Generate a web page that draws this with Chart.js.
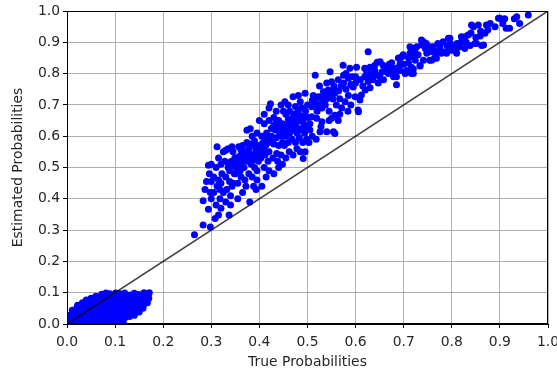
<!DOCTYPE html>
<html>
<head>
<meta charset="utf-8">
<script src="https://cdn.jsdelivr.net/npm/chart.js@4"></script>
<style>
html,body{margin:0;padding:0;background:#fff;}
#wrap{width:557px;height:372px;position:relative;}
</style>
</head>
<body>
<div id="wrap"><canvas id="c" width="557" height="372"></canvas></div>
<script>
const xTitle = "True Probabilities";
const yTitle = "Estimated Probabilities";
const xTickLabels = ["0.0","0.1","0.2","0.3","0.4","0.5","0.6","0.7","0.8","0.9","1.0"];
const yTickLabels = ["0.0","0.1","0.2","0.3","0.4","0.5","0.6","0.7","0.8","0.9","1.0"];
const diagonal = [[0,0],[1,1]];

// low-probability blob
const lowCluster = [
[0.004,0.004],[0.006,0.016],[0.005,0.028],
[0.012,0.003],[0.011,0.018],[0.013,0.032],[0.011,0.044],
[0.02,0.008],[0.021,0.022],[0.019,0.036],[0.02,0.05],[0.022,0.06],
[0.03,0.004],[0.029,0.017],[0.031,0.03],[0.03,0.044],[0.029,0.057],[0.032,0.068],
[0.04,0.01],[0.041,0.024],[0.039,0.038],[0.04,0.052],[0.041,0.065],[0.04,0.077],
[0.05,0.003],[0.049,0.016],[0.051,0.03],[0.05,0.044],[0.049,0.058],[0.051,0.07],[0.05,0.082],
[0.06,0.009],[0.061,0.023],[0.059,0.037],[0.06,0.051],[0.061,0.064],[0.059,0.077],[0.06,0.089],
[0.07,0.003],[0.069,0.016],[0.071,0.03],[0.07,0.044],[0.069,0.058],[0.071,0.071],[0.07,0.084],[0.072,0.095],
[0.08,0.009],[0.081,0.023],[0.079,0.037],[0.08,0.051],[0.081,0.064],[0.079,0.077],[0.08,0.089],[0.081,0.099],
[0.09,0.003],[0.089,0.016],[0.091,0.03],[0.09,0.044],[0.089,0.058],[0.091,0.071],[0.09,0.084],[0.089,0.097],
[0.1,0.009],[0.101,0.023],[0.099,0.037],[0.1,0.051],[0.101,0.064],[0.099,0.077],[0.1,0.089],[0.101,0.099],
[0.108,0.004],[0.11,0.016],[0.111,0.03],[0.109,0.044],[0.11,0.058],[0.111,0.071],[0.109,0.084],[0.11,0.097],
[0.117,0.005],[0.12,0.02],[0.121,0.033],[0.119,0.047],[0.12,0.06],[0.121,0.074],[0.119,0.087],[0.12,0.099],
[0.13,0.024],[0.129,0.038],[0.131,0.052],[0.13,0.066],[0.129,0.08],[0.131,0.093],
[0.14,0.028],[0.141,0.042],[0.139,0.056],[0.14,0.07],[0.141,0.084],[0.14,0.098],
[0.15,0.038],[0.149,0.052],[0.151,0.066],[0.15,0.08],[0.149,0.094],
[0.158,0.05],[0.16,0.063],[0.161,0.077],[0.159,0.09],[0.16,0.1],
[0.167,0.068],[0.17,0.082],[0.169,0.095],[0.171,0.1]
];

// upper cluster, x 0.26 - 0.35
const highClusterA = [
[0.265,0.285],[0.283,0.316],[0.298,0.31],[0.283,0.394],[0.294,0.367],[0.29,0.455],[0.294,0.507],[0.30,0.455],[0.298,0.42],[0.287,0.43],[0.296,0.48],[0.30,0.40],
[0.308,0.337],[0.315,0.348],[0.337,0.348],[0.31,0.38],[0.32,0.37],[0.33,0.39],[0.34,0.38],[0.305,0.42],[0.312,0.44],[0.318,0.40],[0.325,0.42],[0.332,0.43],[0.34,0.41],[0.345,0.45],
[0.305,0.47],[0.315,0.46],[0.322,0.48],[0.33,0.47],[0.338,0.49],[0.348,0.48],[0.31,0.50],[0.32,0.51],[0.328,0.52],[0.335,0.50],[0.342,0.52],[0.349,0.53],[0.315,0.53],[0.325,0.55],
[0.312,0.566],[0.335,0.56],[0.345,0.55],[0.32,0.45],[0.30,0.51],[0.338,0.455],[0.318,0.43],[0.343,0.44],[0.33,0.555],[0.343,0.566],
[0.335,0.515],[0.345,0.505]
];

// upper cluster, x 0.35 - 0.45
const highClusterB = [
[0.355,0.40],[0.365,0.42],[0.38,0.39],[0.393,0.43],[0.355,0.45],[0.362,0.47],[0.37,0.46],[0.378,0.48],[0.385,0.47],[0.395,0.46],
[0.352,0.50],[0.36,0.51],[0.368,0.50],[0.375,0.52],[0.383,0.51],[0.39,0.50],[0.398,0.52],[0.355,0.53],[0.363,0.54],[0.37,0.55],
[0.378,0.53],[0.386,0.54],[0.393,0.555],[0.357,0.566],[0.365,0.57],[0.374,0.58],[0.381,0.575],[0.39,0.585],[0.398,0.57],[0.374,0.619],
[0.381,0.624],[0.395,0.61],[0.36,0.49],[0.372,0.44],[0.388,0.44],[0.35,0.48],[0.395,0.49],[0.385,0.60],[0.365,0.52],
[0.352,0.52],[0.358,0.535],[0.368,0.525],[0.372,0.54],[0.38,0.545],[0.388,0.525],[0.396,0.535],[0.362,0.555],[0.378,0.56],[0.392,0.565],
[0.405,0.44],[0.414,0.47],[0.42,0.49],[0.41,0.50],[0.43,0.48],[0.44,0.50],[0.448,0.51],[0.403,0.53],[0.412,0.54],[0.42,0.55],
[0.428,0.53],[0.436,0.545],[0.445,0.54],[0.405,0.56],[0.413,0.57],[0.42,0.58],[0.43,0.575],[0.44,0.57],[0.448,0.58],[0.405,0.6],
[0.415,0.61],[0.425,0.6],[0.433,0.62],[0.442,0.61],[0.40,0.65],[0.41,0.64],[0.42,0.65],[0.43,0.66],[0.44,0.65],[0.448,0.64],
[0.42,0.69],[0.423,0.704],[0.435,0.68],[0.445,0.7],[0.41,0.67],[0.45,0.68],[0.43,0.635],[0.418,0.52],[0.438,0.52],[0.448,0.62],
[0.402,0.545],[0.41,0.555],[0.408,0.58],[0.416,0.59],[0.425,0.585],[0.435,0.595],[0.445,0.6],[0.44,0.63],[0.425,0.625],[0.435,0.65]
];

// upper cluster, x 0.45 - 0.60
const highClusterC = [
[0.455,0.53],[0.462,0.55],[0.47,0.54],[0.478,0.56],[0.485,0.55],[0.491,0.529],[0.495,0.55],[0.452,0.57],[0.46,0.58],[0.468,0.59],
[0.475,0.58],[0.483,0.595],[0.49,0.58],[0.498,0.59],[0.455,0.60],[0.463,0.61],[0.47,0.62],[0.478,0.61],[0.486,0.62],[0.494,0.61],
[0.452,0.63],[0.46,0.64],[0.468,0.65],[0.476,0.64],[0.484,0.65],[0.492,0.64],[0.498,0.63],[0.455,0.67],[0.463,0.68],[0.472,0.67],
[0.48,0.68],[0.488,0.69],[0.496,0.68],[0.453,0.71],[0.47,0.726],[0.481,0.73],[0.495,0.737],[0.46,0.70],[0.485,0.71],[0.49,0.66],[0.475,0.695],
[0.455,0.615],[0.465,0.625],[0.472,0.635],[0.48,0.625],[0.49,0.625],[0.46,0.655],[0.47,0.66],[0.478,0.655],[0.485,0.665],[0.495,0.66],
[0.503,0.58],[0.51,0.60],[0.518,0.59],[0.505,0.62],[0.509,0.662],[0.519,0.657],[0.53,0.646],[0.526,0.614],[0.54,0.614],[0.554,0.614],
[0.557,0.667],[0.545,0.65],[0.509,0.694],[0.516,0.71],[0.523,0.726],[0.533,0.742],[0.537,0.70],[0.543,0.748],[0.55,0.774],[0.553,0.719],
[0.516,0.795],[0.547,0.806],[0.52,0.68],[0.53,0.69],[0.545,0.68],[0.505,0.64],[0.535,0.725],[0.525,0.76],[0.54,0.77],[0.512,0.73],
[0.55,0.74],[0.502,0.66],[0.528,0.63],
[0.5,0.70],[0.51,0.715],[0.52,0.70],[0.53,0.71],[0.54,0.72],[0.545,0.735],[0.555,0.75],[0.565,0.745],[0.575,0.77],[0.585,0.785],[0.59,0.765],
[0.564,0.78],[0.574,0.827],[0.575,0.795],[0.557,0.737],[0.567,0.72],[0.571,0.69],[0.55,0.657],[0.567,0.67],[0.584,0.68],[0.599,0.726],
[0.595,0.757],[0.592,0.79],[0.588,0.817],[0.564,0.65],[0.557,0.609],[0.58,0.75],[0.585,0.73],[0.57,0.76],[0.56,0.70],[0.59,0.70],
[0.578,0.71],[0.58,0.80],[0.555,0.76]
];

// upper cluster, x 0.60 - 0.96
const highClusterD = [
[0.602,0.82],[0.606,0.678],[0.6,0.77],[0.6,0.79],[0.61,0.78],[0.615,0.76],[0.63,0.79],[0.635,0.80],[0.65,0.79],[0.66,0.81],[0.67,0.83],[0.68,0.805],
[0.626,0.87],[0.619,0.817],[0.63,0.82],[0.64,0.827],[0.651,0.838],[0.657,0.827],[0.668,0.817],[0.675,0.82],[0.685,0.817],[0.692,0.827],
[0.696,0.854],[0.692,0.81],[0.706,0.81],[0.716,0.82],[0.719,0.854],[0.723,0.875],[0.713,0.865],[0.727,0.886],[0.685,0.764],[0.685,0.79],
[0.668,0.80],[0.619,0.79],[0.626,0.775],[0.636,0.78],[0.643,0.796],[0.647,0.77],[0.62,0.748],[0.612,0.732],[0.609,0.716],[0.605,0.684],
[0.703,0.80],[0.699,0.86],[0.689,0.85],[0.693,0.834],[0.71,0.834],[0.724,0.843],[0.734,0.824],[0.679,0.79],[0.658,0.78],[0.63,0.755],
[0.623,0.806],[0.64,0.81],[0.645,0.836],[0.662,0.82],[0.72,0.80],[0.675,0.835],[0.655,0.805],
[0.7,0.83],[0.71,0.85],[0.73,0.86],[0.745,0.88],[0.76,0.87],[0.775,0.885],[0.79,0.89],[0.805,0.89],[0.83,0.90],[0.85,0.915],[0.86,0.935],[0.88,0.96],[0.89,0.95],
[0.737,0.907],[0.747,0.896],[0.754,0.886],[0.793,0.913],[0.797,0.896],[0.811,0.896],[0.82,0.918],[0.834,0.923],[0.845,0.95],[0.855,0.955],
[0.872,0.955],[0.869,0.929],[0.866,0.891],[0.897,0.977],[0.906,0.96],[0.913,0.945],[0.935,0.982],[0.941,0.96],[0.959,0.987],[0.9,0.977],
[0.92,0.945],[0.841,0.955],[0.859,0.92],[0.84,0.93],[0.827,0.918],[0.82,0.902],[0.81,0.88],[0.796,0.913],[0.782,0.902],[0.771,0.896],
[0.761,0.886],[0.741,0.902],[0.72,0.88],[0.751,0.87],[0.768,0.87],[0.782,0.87],[0.8,0.875],[0.817,0.886],[0.827,0.88],[0.851,0.896],
[0.862,0.89],[0.72,0.86],[0.741,0.843],[0.754,0.843],[0.764,0.849],[0.789,0.865],[0.81,0.865],[0.734,0.826],[0.72,0.815],[0.716,0.80],
[0.713,0.886],[0.748,0.865],[0.758,0.843],[0.778,0.865],[0.79,0.87],[0.838,0.89],[0.848,0.896],[0.737,0.891],[0.768,0.849],[0.93,0.975],
[0.91,0.975],[0.875,0.94]
];

const toPts = arr => arr.map(p => ({x: p[0], y: p[1]}));
const allPoints = [].concat(lowCluster, highClusterA, highClusterB, highClusterC, highClusterD);
const FONT = {family: "'DejaVu Sans', sans-serif", size: 13.9};
const TXT = '#262626';

const framePlugin = {
  id: 'frame',
  afterDraw(chart) {
    const a = chart.chartArea, ctx = chart.ctx;
    ctx.save();
    ctx.strokeStyle = '#000';
    ctx.lineWidth = 1;
    ctx.strokeRect(Math.round(a.left) + 0.5, Math.round(a.top) + 0.5, Math.round(a.right - a.left) - 1, Math.round(a.bottom - a.top) - 1);
    ctx.restore();
  }
};

new Chart(document.getElementById('c'), {
  type: 'scatter',
  data: {
    datasets: [
      {
        type: 'line',
        data: toPts(diagonal),
        borderColor: 'rgba(0,0,0,0.75)',
        borderWidth: 1.5,
        pointRadius: 0,
        fill: false,
        order: 0
      },
      {
        data: toPts(allPoints),
        backgroundColor: '#0000ff',
        borderColor: '#0000ff',
        borderWidth: 0,
        pointRadius: 3.5,
        order: 1
      }
    ]
  },
  options: {
    responsive: false,
    animation: false,
    devicePixelRatio: 1,
    layout: {padding: {left: 0, right: 9, top: 11, bottom: 0}},
    plugins: {legend: {display: false}, tooltip: {enabled: false}},
    scales: {
      x: {
        type: 'linear', min: 0, max: 1,
        afterFit: s => { s.height = 48; s.paddingLeft = 0; s.paddingRight = 0; },
        afterBuildTicks: s => { s.ticks = xTickLabels.map(t => ({value: parseFloat(t)})); },
        ticks: {callback: (v, i) => xTickLabels[i], font: FONT, color: TXT, padding: 6, maxRotation: 0, autoSkip: false},
        grid: {color: '#b0b0b0', lineWidth: 1, tickLength: 4, tickColor: '#000'},
        border: {display: true, color: '#000', width: 1},
        title: {display: true, text: xTitle, font: FONT, color: TXT, padding: {top: 0, bottom: 1.7}}
      },
      y: {
        type: 'linear', min: 0, max: 1,
        afterFit: s => { s.width = 67; s.paddingTop = 0; s.paddingBottom = 0; },
        afterBuildTicks: s => { s.ticks = yTickLabels.map(t => ({value: parseFloat(t)})); },
        ticks: {callback: (v, i) => yTickLabels[i], font: FONT, color: TXT, padding: 3, autoSkip: false},
        grid: {color: '#b0b0b0', lineWidth: 1, tickLength: 4, tickColor: '#000'},
        border: {display: true, color: '#000', width: 1},
        title: {display: true, text: yTitle, font: FONT, color: TXT, padding: {top: 10.2, bottom: 0}}
      }
    }
  },
  plugins: [framePlugin]
});
</script>
</body>
</html>
